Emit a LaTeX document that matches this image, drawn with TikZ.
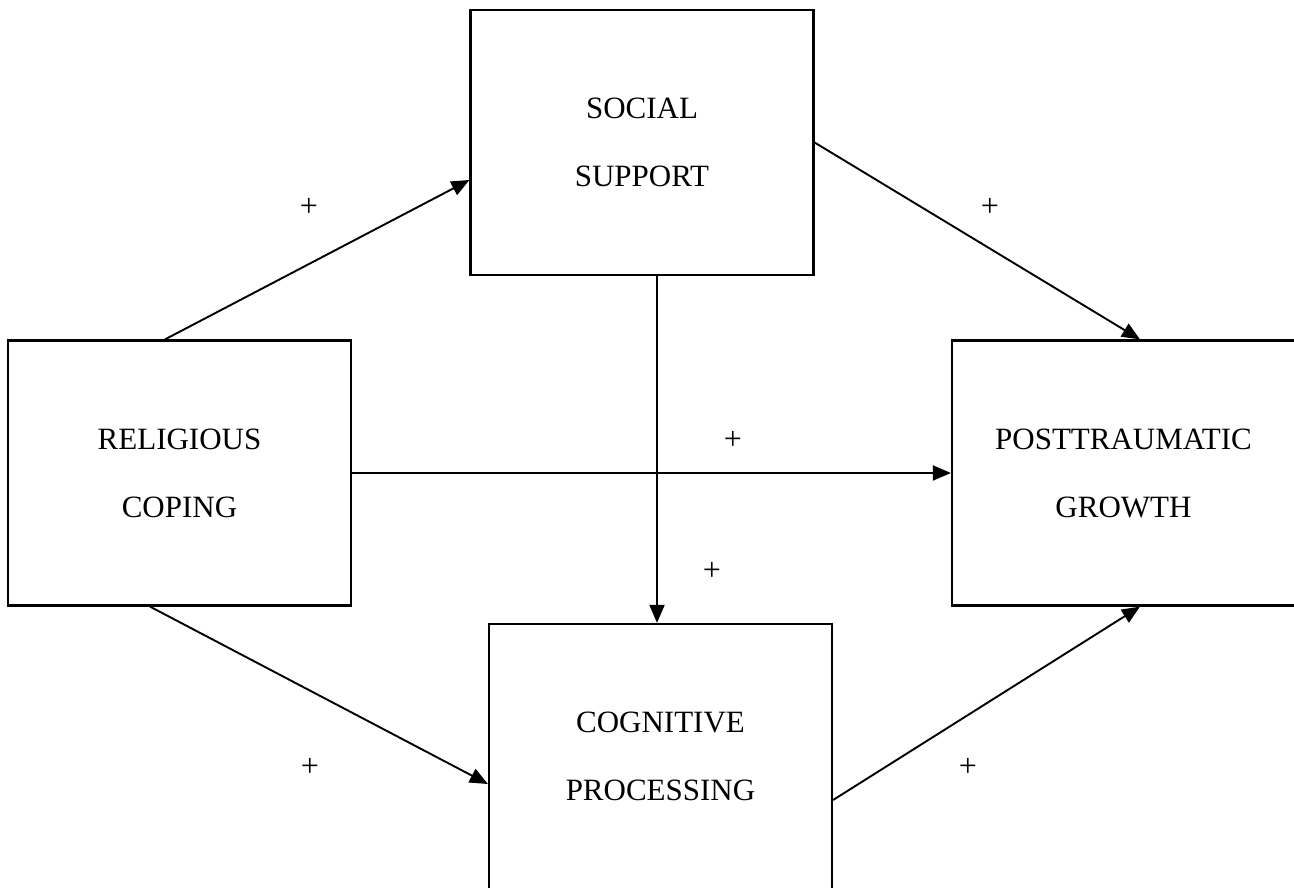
\documentclass[tikz,border=0pt]{standalone}
\usepackage{fontspec}
\setmainfont{Liberation Serif}
\usetikzlibrary{arrows.meta}
\begin{document}
\begin{tikzpicture}[x=1pt,y=-1pt,
  box/.style={draw,line width=2.2pt,minimum width=343pt,minimum height=265pt,inner sep=0pt,align=center,font=\fontsize{31}{68}\selectfont},
  arr/.style={line width=1.9pt,-{Triangle[length=18pt,width=15pt]}},
  plus/.style={font=\fontsize{32}{32}\selectfont,inner sep=0pt}]
\useasboundingbox (0,0) rectangle (1294,888);
\clip (0,0) rectangle (1294,888);
\fill[white] (0,0) rectangle (1294,888);
\node[box] (ss) at (642,142.5) {SOCIAL\\SUPPORT};
\node[box] (rc) at (179.5,473) {RELIGIOUS\\COPING};
\node[box] (pg) at (1123.5,473) {POSTTRAUMATIC\\GROWTH};
\node[box] (cp) at (660.5,756.5) {COGNITIVE\\PROCESSING};
\draw[arr] ([xshift=-14.5pt]rc.north) -- ([yshift=-37.5pt]ss.west);
\draw[arr] (ss.east) -- ([xshift=16.5pt]pg.north);
\draw[arr] (rc.east) -- (pg.west);
\draw[arr] ([xshift=15pt]ss.south) -- ([xshift=15pt]ss.south |- cp.north);
\draw[arr] ([xshift=-29.5pt]rc.south) -- ([yshift=-27.5pt]cp.west);
\draw[arr] ([yshift=-43.5pt]cp.east) -- ([xshift=16.5pt]pg.south);
\node[plus] (p1) at (309,207) {+};
\node[plus] (p2) at (990,207) {+};
\node[plus] (p3) at (733,440) {+};
\node[plus] (p4) at (712,571) {+};
\node[plus] (p5) at (310,767) {+};
\node[plus] (p6) at (968,767) {+};
\end{tikzpicture}
\end{document}
